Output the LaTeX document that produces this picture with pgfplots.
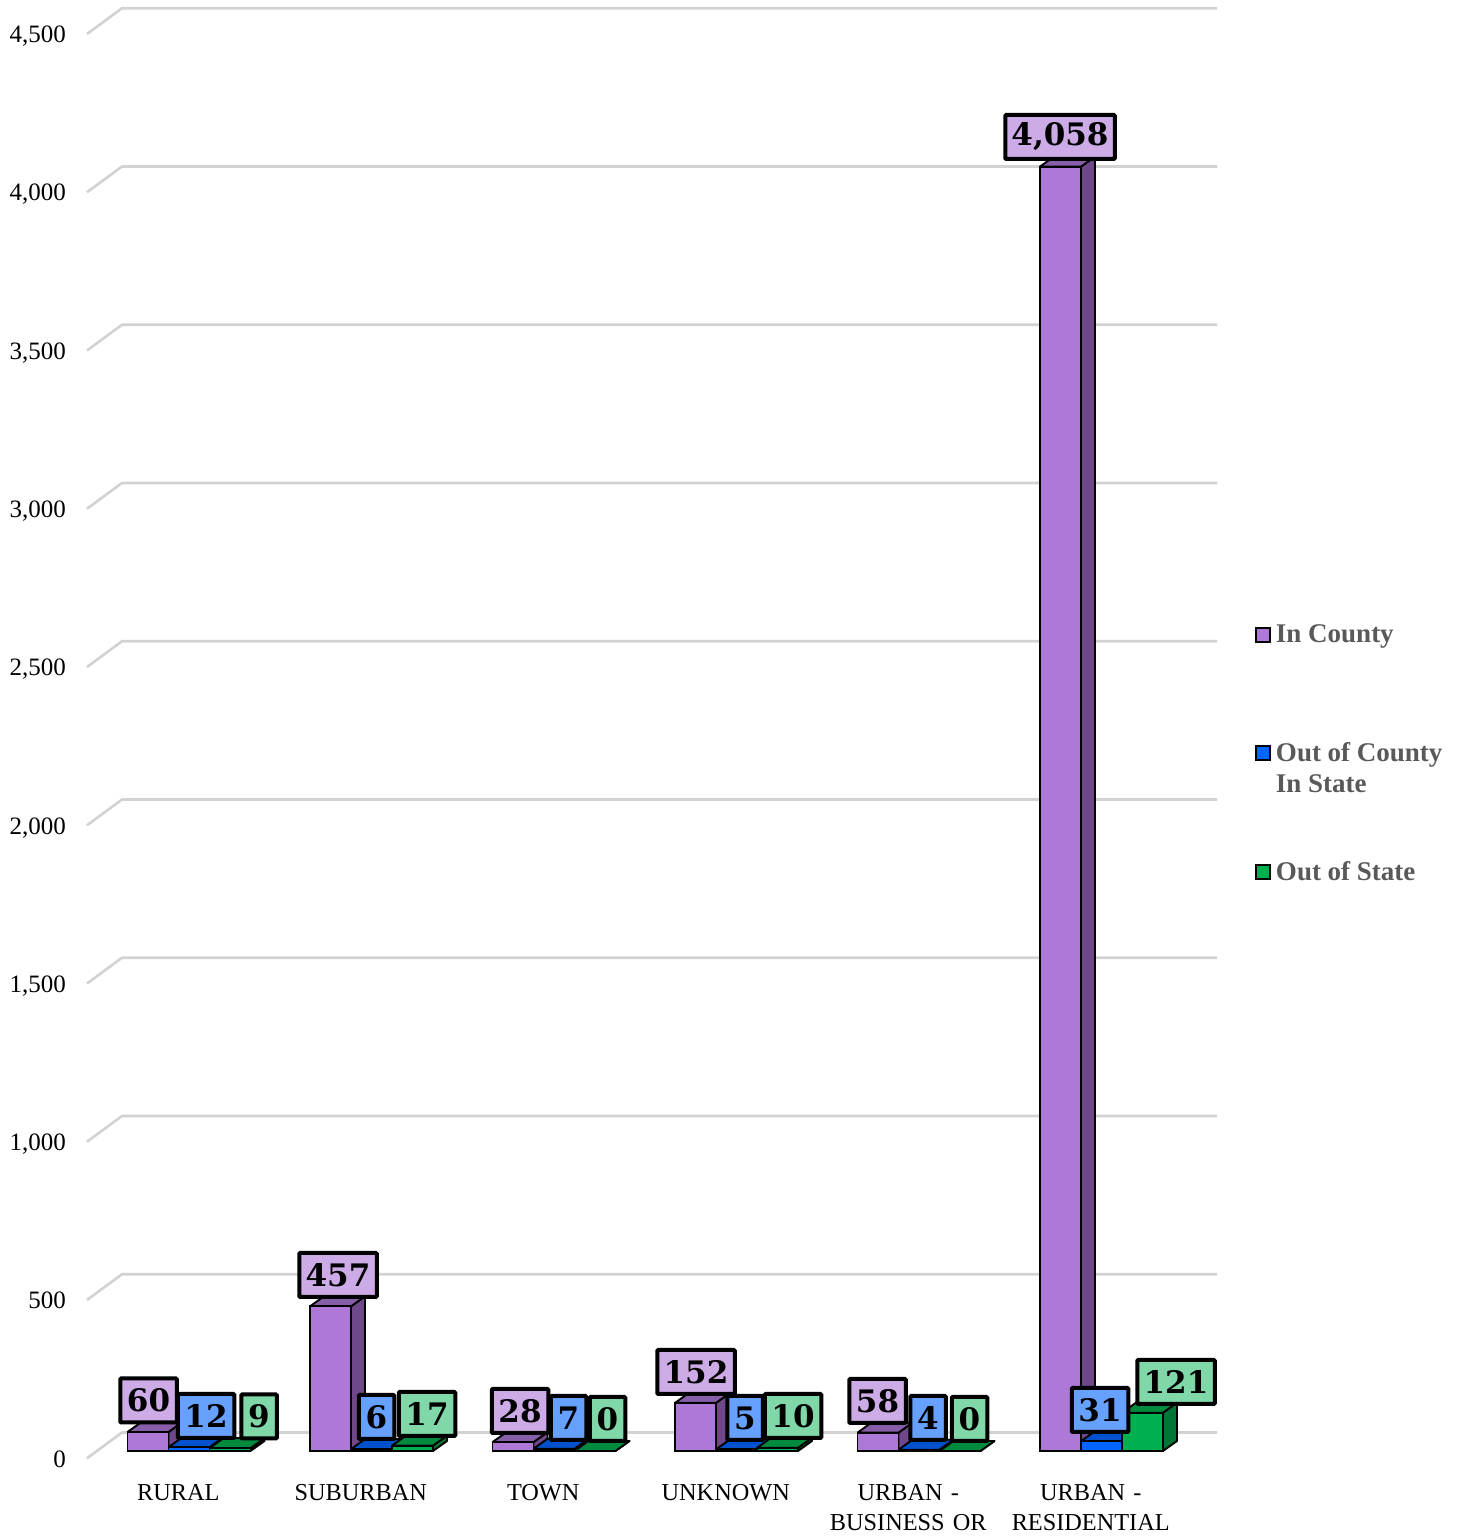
\documentclass[border=0pt]{standalone}
\usepackage{pgfplots}
\pgfplotsset{compat=1.18}
\usepackage{fontspec}
\setmainfont{Liberation Serif}
\newfontfamily\datafont{DejaVu Serif}
\definecolor{pA}{HTML}{AD78D6}\definecolor{pS}{HTML}{6E4888}\definecolor{pT}{HTML}{875EA8}\definecolor{pL}{HTML}{CDABE7}
\definecolor{bA}{HTML}{0066FF}\definecolor{bS}{HTML}{004DBF}\definecolor{bT}{HTML}{0052CC}\definecolor{bL}{HTML}{66A1FF}
\definecolor{gA}{HTML}{00B050}\definecolor{gS}{HTML}{007536}\definecolor{gT}{HTML}{008A3E}\definecolor{gL}{HTML}{80D8A8}
\definecolor{gridc}{HTML}{D2D2D2}
% 3-D faces of one bar: #1 category, #2 value, #3 shift in px, #4 top colour, #5 side colour
\newcommand\faces[5]{%
  \pgfmathsetmacro\xl{#1+(#3-20.5)/182.5}%
  \pgfmathsetmacro\xr{#1+(#3+20.5)/182.5}%
  \pgfmathsetmacro\xlb{\xl+14/182.5}%
  \pgfmathsetmacro\xrb{\xr+14/182.5}%
  \pgfmathsetmacro\yb{#2+31.6}%
  \addplot[forget plot,fill=#5,draw=black,line width=1.9pt,line join=round] coordinates {(\xr,0) (\xrb,31.6) (\xrb,\yb) (\xr,#2) (\xr,0)};
  \addplot[forget plot,fill=#4,draw=black,line width=1.9pt,line join=round] coordinates {(\xl,#2) (\xlb,\yb) (\xrb,\yb) (\xr,#2) (\xl,#2)};
}
\newcommand\gridl[1]{%
  \pgfmathsetmacro\yf{#1-23}%
  \pgfmathsetmacro\yk{#1+58.5}%
  \addplot[forget plot,draw=gridc,line width=2.6pt,line join=round] coordinates {(-0.5,\yf) (-0.3082,\yk) (5.692,\yk)};
}
\begin{document}
\begin{tikzpicture}
\path[use as bounding box,clip] (-87pt,-80pt) rectangle (1377pt,1458pt);
\begin{axis}[
  at={(0pt,0pt)},anchor=south west,
  scale only axis,width=1130pt,height=1458pt,
  xmin=-0.5,xmax=5.692,ymin=-22.1,ymax=4584.5,
  clip=false,
  axis line style={draw=none},
  major tick length=0pt,
  ytick={0,500,1000,1500,2000,2500,3000,3500,4000,4500},
  /pgf/number format/1000 sep={,},
  /pgf/number format/assume math mode=true,
  yticklabel style={font=\fontsize{25}{25}\selectfont,xshift=-21pt,yshift=-16pt,text=black,anchor=base east},
  tick label style={inner sep=0pt},
  xtick={0,1,2,3,4,5},
  xticklabels={RURAL,SUBURBAN,TOWN,UNKNOWN,{URBAN -\\BUSINESS OR},{URBAN -\\RESIDENTIAL}},
  xticklabel style={font=\fontsize{24.3}{30}\selectfont,align=center,text width=175pt,anchor=north,yshift=-26pt,text=black},
  ytick style={draw=none},xtick style={draw=none},
  legend cell align=left,
  legend style={draw=none,fill=none,at={(1.0336,0.5731)},anchor=north west,inner sep=0pt,outer sep=0pt,
     row sep=94.5pt,font=\bfseries\fontsize{27}{31}\selectfont,text=black!65},
  legend image code/.code={\draw[#1,line width=2pt,draw=black] (0pt,-7.5pt) rectangle (14pt,6.5pt);},
]
\gridl{0}\gridl{500}\gridl{1000}\gridl{1500}\gridl{2000}\gridl{2500}\gridl{3000}\gridl{3500}\gridl{4000}\gridl{4500}

\faces{0}{60}{-30.25}{pT}{pS}\faces{1}{457}{-30.25}{pT}{pS}\faces{2}{28}{-30.25}{pT}{pS}
\faces{3}{152}{-30.25}{pT}{pS}\faces{4}{58}{-30.25}{pT}{pS}\faces{5}{4058}{-30.25}{pT}{pS}
\addplot[ybar,bar width=41pt,bar shift=-30.25pt,fill=pA,draw=black,line width=1.9pt] coordinates {(0,60)(1,457)(2,28)(3,152)(4,58)(5,4058)};
\addlegendentry{\hspace{3pt}In County}

\faces{0}{12}{10.75}{bT}{bS}\faces{1}{6}{10.75}{bT}{bS}\faces{2}{7}{10.75}{bT}{bS}
\faces{3}{5}{10.75}{bT}{bS}\faces{4}{4}{10.75}{bT}{bS}\faces{5}{31}{10.75}{bT}{bS}
\addplot[ybar,bar width=41pt,bar shift=10.75pt,fill=bA,draw=black,line width=1.9pt] coordinates {(0,12)(1,6)(2,7)(3,5)(4,4)(5,31)};
\addlegendentry{\hspace{3pt}\vtop{\hbox{Out of County}\hbox{In State}}}

\faces{0}{9}{51.75}{gT}{gS}\faces{1}{17}{51.75}{gT}{gS}\faces{2}{0}{51.75}{gT}{gS}
\faces{3}{10}{51.75}{gT}{gS}\faces{4}{0}{51.75}{gT}{gS}\faces{5}{121}{51.75}{gT}{gS}
\addplot[ybar,bar width=41pt,bar shift=51.75pt,fill=gA,draw=black,line width=1.9pt] coordinates {(0,9)(1,17)(2,0)(3,10)(4,0)(5,121)};
\addlegendentry{\hspace{3pt}Out of State}
\end{axis}
% data labels, px positions of the reference converted to the picture's frame
\newcommand\dl[5]{\node[draw=black,line width=4pt,rounded corners=1pt,fill=#3,text=black,
   minimum height=44pt,inner sep=0pt,minimum width=#4,font=\datafont\bfseries\fontsize{31}{31}\selectfont]
   at ({(#1-87)*1pt},{(1458-#2)*1pt}) {#5};}
\dl{148.5}{1400.5}{pL}{56.5pt}{60}
\dl{206}{1416}{bL}{56.5pt}{12}
\dl{259}{1416.5}{gL}{35.5pt}{9}
\dl{338}{1275}{pL}{77.5pt}{457}
\dl{376.5}{1417}{bL}{35.5pt}{6}
\dl{427}{1414}{gL}{56.5pt}{17}
\dl{520}{1411}{pL}{56.5pt}{28}
\dl{568.5}{1418}{bL}{35.5pt}{7}
\dl{607.5}{1419}{gL}{35.5pt}{0}
\dl{696}{1372}{pL}{77.5pt}{152}
\dl{745}{1418}{bL}{35.5pt}{5}
\dl{793}{1416}{gL}{56.5pt}{10}
\dl{877.5}{1401}{pL}{56.5pt}{58}
\dl{928}{1418}{bL}{35.5pt}{4}
\dl{969.5}{1419}{gL}{35.5pt}{0}
\dl{1060}{137}{pL}{109.5pt}{4,058}
\dl{1100}{1410}{bL}{56.5pt}{31}
\dl{1176}{1382}{gL}{77.5pt}{121}
\end{tikzpicture}
\end{document}
